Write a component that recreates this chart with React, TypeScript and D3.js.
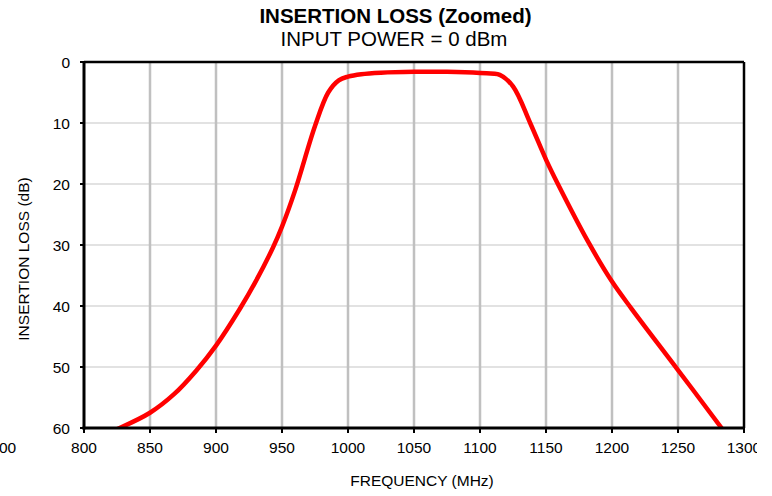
import React from "react";
import * as d3 from "d3";

const freqs = [812, 827, 850, 868, 885, 900, 918, 930, 943, 950, 960, 975, 985, 993, 1000, 1010, 1025, 1050, 1075, 1100, 1115, 1125, 1138, 1150, 1159, 1182, 1200, 1215, 1250, 1283, 1295];
const loss = [61.3, 60, 57.5, 54.5, 50.6, 46.5, 40.5, 36, 30.5, 27, 21, 10.5, 5, 3, 2.4, 2.0, 1.75, 1.6, 1.6, 1.8, 2.1, 4, 10, 16, 20, 29.5, 36, 40.5, 50.5, 60, 63.6];
const xTicks = [800, 850, 900, 950, 1000, 1050, 1100, 1150, 1200, 1250, 1300];
const yTicks = [0, 10, 20, 30, 40, 50, 60];

export default function App() {
  const W = 772, H = 496;
  const L = 84, R = 744, T = 62, B = 428;
  const x = d3.scaleLinear().domain([800, 1300]).range([L, R]);
  const y = d3.scaleLinear().domain([0, 60]).range([T, B]);
  const pts = freqs.map((f, i) => [f, loss[i]] as [number, number]);
  const line = d3.line<[number, number]>().x(d => x(d[0])).y(d => y(d[1])).curve(d3.curveCatmullRom.alpha(0.5));
  const font = "'Liberation Sans', Arial, sans-serif";
  const fs = 15.5;
  return (
    <svg width={W} height={H} style={{ position: "absolute", left: 0, top: 0, background: "#fff" }} fontFamily={font}>
      <defs>
        <clipPath id="plot"><rect x={L} y={T} width={R - L} height={B - T} /></clipPath>
        <clipPath id="page"><rect x={0} y={0} width={757} height={H} /></clipPath>
      </defs>
      <rect x={0} y={0} width={W} height={H} fill="#fff" />
      {yTicks.slice(1, -1).map(t => (
        <line key={"h" + t} x1={L} x2={R} y1={y(t)} y2={y(t)} stroke="#d9d9d9" strokeWidth={1.5} />
      ))}
      {xTicks.slice(1, -1).map(t => (
        <line key={"v" + t} x1={x(t)} x2={x(t)} y1={T} y2={B} stroke="#c0c0c0" strokeWidth={2.5} />
      ))}
      <path d={line(pts) || ""} fill="none" stroke="#ff0000" strokeWidth={4.5} clipPath="url(#plot)" strokeLinejoin="round" />
      <line x1={L} x2={R} y1={T} y2={T} stroke="#000" strokeWidth={2.5} />
      <line x1={R} x2={R} y1={T} y2={B} stroke="#000" strokeWidth={2.5} />
      <line x1={L} x2={L} y1={T} y2={B + 1.5} stroke="#000" strokeWidth={3} />
      <line x1={L - 1.5} x2={R + 1} y1={B} y2={B} stroke="#000" strokeWidth={3} />
      {yTicks.map(t => (
        <g key={"yt" + t}>
          <line x1={L - 4} x2={L} y1={y(t)} y2={y(t)} stroke="#000" strokeWidth={2} />
          <text x={70} y={y(t) + 5.5} textAnchor="end" fontSize={fs}>{t}</text>
        </g>
      ))}
      <g clipPath="url(#page)">
        {xTicks.map(t => (
          <g key={"xt" + t}>
            <line x1={x(t)} x2={x(t)} y1={B} y2={B + 5} stroke="#000" strokeWidth={2} />
            <text x={x(t)} y={452.5} textAnchor="middle" fontSize={fs}>{t}</text>
          </g>
        ))}
      </g>
      <text x={-1} y={452.5} textAnchor="start" fontSize={fs}>00</text>
      <text x={395.5} y={23} textAnchor="middle" fontSize={20.5} fontWeight="bold">INSERTION LOSS (Zoomed)</text>
      <text x={394} y={46} textAnchor="middle" fontSize={20.5}>INPUT POWER = 0 dBm</text>
      <text x={422} y={486} textAnchor="middle" fontSize={fs}>FREQUENCY (MHz)</text>
      <text transform={`translate(28.5, 259) rotate(-90)`} textAnchor="middle" fontSize={fs}>INSERTION LOSS (dB)</text>
    </svg>
  );
}
